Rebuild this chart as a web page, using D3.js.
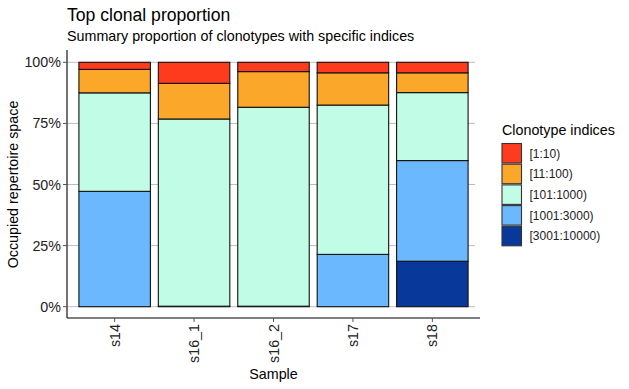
<!DOCTYPE html>
<html>
<head>
  <meta charset="utf-8">
  <script src="https://d3js.org/d3.v7.min.js"></script>
  <style>
    body { margin: 0; background: #fff; }
    text { font-family: "Liberation Sans", Arial, sans-serif; }
  </style>
</head>
<body>
<svg id="chart" width="629" height="389"></svg>
<script>
  // data (percent of repertoire)
  const samples = ["s14", "s16_1", "s16_2", "s17", "s18"];
  const groups = ["[1:10)", "[11:100)", "[101:1000)", "[1001:3000)", "[3001:10000)"];
  const colors = ["#FF3B1D", "#FBA72A", "#C1FCE7", "#6BB8FF", "#08389A"];
  const top10 = [2.9, 8.6, 3.8, 4.3, 4.3];
  const top100 = [9.6, 14.6, 14.6, 13.2, 8.1];
  const top1000 = [40.3, 76.6, 81.4, 61.1, 27.8];
  const top3000 = [47.2, 0.2, 0.2, 21.4, 41.2];
  const top10000 = [0, 0, 0, 0, 18.6];
  const yTicks = [0, 25, 50, 75, 100];

  const rows = samples.map((s, i) => ({
    sample: s,
    "[1:10)": top10[i],
    "[11:100)": top100[i],
    "[101:1000)": top1000[i],
    "[1001:3000)": top3000[i],
    "[3001:10000)": top10000[i]
  }));

  const svg = d3.select("#chart");
  const pLeft = 67, pRight = 480, pTop = 62.3, pBottom = 306.7, axisY = 318;

  // bars stack from bottom: largest index group at bottom
  const stack = d3.stack().keys(groups.slice().reverse());
  const series = stack(rows);

  // ggplot style discrete axis: 0.6 unit expansion each side, bar width 0.9
  const x = d3.scalePoint().domain(samples)
    .range([pLeft, pRight]).padding(0.6);
  const bw = x.step() * 0.9;

  const y = d3.scaleLinear().domain([0, 100]).range([pBottom, pTop]);

  // gridlines
  svg.append("g").selectAll("line").data(yTicks).join("line")
    .attr("x1", pLeft).attr("x2", pRight - 5)
    .attr("y1", d => y(d)).attr("y2", d => y(d))
    .attr("stroke", "#bdbdbd").attr("stroke-width", 1);

  const color = d3.scaleOrdinal().domain(groups).range(colors);

  svg.append("g").selectAll("g").data(series).join("g")
    .attr("fill", d => color(d.key))
    .selectAll("rect").data(d => d).join("rect")
    .attr("x", d => x(d.data.sample) - bw / 2)
    .attr("width", bw)
    .attr("y", d => y(d[1]))
    .attr("height", d => Math.max(0, y(d[0]) - y(d[1])))
    .attr("stroke", "#111").attr("stroke-width", 1.1);

  // y axis
  const ya = svg.append("g");
  ya.append("line").attr("x1", pLeft).attr("x2", pLeft)
    .attr("y1", 50).attr("y2", axisY).attr("stroke", "#000").attr("stroke-width", 1.1);
  ya.selectAll(".tk").data(yTicks).join("line")
    .attr("x1", pLeft - 4).attr("x2", pLeft)
    .attr("y1", d => y(d)).attr("y2", d => y(d))
    .attr("stroke", "#555");
  ya.selectAll(".lb").data(yTicks).join("text")
    .attr("x", pLeft - 6).attr("y", d => y(d)).attr("dy", "0.35em")
    .attr("text-anchor", "end").attr("font-size", 14.3).attr("fill", "#222")
    .text(d => d + "%");

  // x axis
  const xa = svg.append("g");
  xa.append("line").attr("x1", pLeft).attr("x2", pRight)
    .attr("y1", axisY).attr("y2", axisY).attr("stroke", "#000").attr("stroke-width", 1.1);
  xa.selectAll(".tk").data(samples).join("line")
    .attr("x1", d => x(d)).attr("x2", d => x(d))
    .attr("y1", axisY).attr("y2", axisY + 4).attr("stroke", "#555");
  xa.selectAll(".lb").data(samples).join("text")
    .attr("transform", d => `translate(${x(d)},${axisY + 6}) rotate(-90)`)
    .attr("dy", "0.35em").attr("text-anchor", "end")
    .attr("font-size", 14.3).attr("fill", "#222")
    .text(d => d);

  // axis titles
  svg.append("text").attr("x", (pLeft + pRight) / 2).attr("y", 379)
    .attr("text-anchor", "middle").attr("font-size", 14.3).text("Sample");
  svg.append("text")
    .attr("transform", `translate(18,${(pTop + pBottom) / 2}) rotate(-90)`)
    .attr("text-anchor", "middle").attr("font-size", 14.3)
    .text("Occupied repertoire space");

  // titles
  svg.append("text").attr("x", pLeft).attr("y", 21)
    .attr("font-size", 17.6).text("Top clonal proportion");
  svg.append("text").attr("x", pLeft).attr("y", 41)
    .attr("font-size", 14.3).text("Summary proportion of clonotypes with specific indices");

  // legend
  const lg = svg.append("g").attr("transform", "translate(502,0)");
  lg.append("text").attr("x", 0).attr("y", 135).attr("font-size", 14.3)
    .text("Clonotype indices");
  const item = lg.selectAll(".it").data(groups).join("g")
    .attr("transform", (d, i) => `translate(0,${143.5 + i * 20.7})`);
  item.append("rect").attr("width", 19.5).attr("height", 19.5)
    .attr("fill", d => color(d)).attr("stroke", "#333").attr("stroke-width", 1.1);
  item.append("text").attr("x", 27.5).attr("y", 10).attr("dy", "0.35em")
    .attr("font-size", 12).attr("fill", "#222").text(d => d);
</script>
</body>
</html>
